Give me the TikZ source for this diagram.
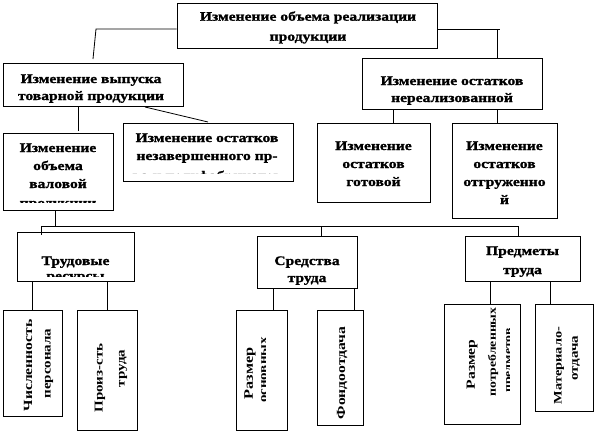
\documentclass[tikz,border=0pt]{standalone}
\usepackage{fontspec}
\setmainfont{Liberation Serif}
\newfontfamily\hb{Liberation Serif}[FakeStretch=1.2,FakeBold=1.2]
\newfontfamily\vb{Liberation Serif}[FakeStretch=1.25]
\usetikzlibrary{fit}
\tikzset{
  bx/.style={draw, line width=0.8pt, inner sep=0pt},
  ln/.style={line width=0.8pt},
  ht/.style={font=\hb\bfseries\fontsize{13}{15}\selectfont, inner sep=0pt, anchor=base},
  vt/.style={font=\vb\bfseries\fontsize{#1}{#1}\selectfont, inner sep=0pt, rotate=90},
}
\newcommand\clipbox[5]{\clip ([shift={(#2pt,-#3pt)}]#1.north west) rectangle ([shift={(-#4pt,#5pt)}]#1.south east);}
\begin{document}
\begin{tikzpicture}[x=1pt,y=-1pt]
\useasboundingbox (0,0) rectangle (598,434);
\fill[white] (0,0) rectangle (598,434);
% boxes
\node[bx, fit={(177,3) (437,48)}] (top) {};
\node[bx, fit={(3,63) (183,106)}] (A) {};
\node[bx, fit={(123,123) (293,181)}] (B) {};
\node[bx, fit={(3,133) (113,210)}] (C) {};
\node[bx, fit={(362,58) (542,109)}] (I) {};
\node[bx, fit={(317,123) (430,202)}] (J) {};
\node[bx, fit={(452,123) (557,218)}] (K) {};
\node[bx, fit={(17,232) (134,281)}] (D) {};
\node[bx, fit={(257,236) (357,288)}] (E) {};
\node[bx, fit={(465,236) (580,281)}] (F) {};
\node[bx, fit={(3,310) (62,416)}] (G1) {};
\node[bx, fit={(77,310) (137,430)}] (G2) {};
\node[bx, fit={(236,310) (287,430)}] (H1) {};
\node[bx, fit={(317,310) (363,425)}] (H2) {};
\node[bx, fit={(444,304) (520,424)}] (P1) {};
\node[bx, fit={(535,304) (593,411)}] (P2) {};
% horizontal texts
\begin{scope}\clipbox{top}{3}{3}{3}{4}
\node[ht] (top1) at (308,20.7) {Изменение объема реализации};
\node[ht] (top2) at (308,40.7) {продукции};
\end{scope}
\begin{scope}\clipbox{A}{3}{3}{3}{4}
\node[ht] (A1) at (91,83) {Изменение выпуска};
\node[ht] (A2) at (91,100) {товарной продукции};
\end{scope}
\begin{scope}\clipbox{B}{3}{3}{3}{8}
\node[ht] (B1) at (207,142) {Изменение остатков};
\node[ht] (B2) at (207,160) {незавершенного пр-};
\node[ht] (B3) at (207,180) {ва и полуфабрикатов};
\end{scope}
\begin{scope}\clipbox{C}{3}{3}{3}{8}
\node[ht] (C1) at (58,152) {Изменение};
\node[ht] (C2) at (58,170) {объема};
\node[ht] (C3) at (58,188) {валовой};
\node[ht] (C4) at (58,207) {продукции};
\end{scope}
\begin{scope}\clipbox{I}{3}{3}{3}{4}
\node[ht] (I1) at (452,85) {Изменение остатков};
\node[ht] (I2) at (452,102) {нереализованной};
\end{scope}
\node[ht] (J1) at (373.5,150) {Изменение};
\node[ht] (J2) at (373.5,168) {остатков};
\node[ht] (J3) at (373.5,186) {готовой};
\node[ht] (K1) at (504.5,150) {Изменение};
\node[ht] (K2) at (504.5,168) {остатков};
\node[ht] (K3) at (504.5,186) {отгруженно};
\node[ht] (K4) at (504.5,204) {й};
\begin{scope}\clipbox{D}{3}{3}{3}{5}
\node[ht] (D1) at (75.5,265) {Трудовые};
\node[ht] (D2) at (75.5,280) {ресурсы};
\end{scope}
\node[ht] (E1) at (307,265) {Средства};
\node[ht] (E2) at (307,282) {труда};
\node[ht] (F1) at (522.5,255) {Предметы};
\node[ht] (F2) at (522.5,274) {труда};
% vertical texts
\node[vt=12.5] (G1a) at (28,365.5) {Численность};
\node[vt=12] (G1b) at (49,363.5) {персонала};
\node[vt=12] (G2a) at (100,378) {Произ-сть};
\node[vt=12] (G2b) at (123,368.5) {труда};
\node[vt=13] (H1a) at (250,373.5) {Размер};
\begin{scope}\clip (236,310) rectangle (265,430);
\node[vt=12] (H1b) at (264,370) {основных};
\end{scope}
\node[vt=12.5] (H2a) at (342,373) {Фондоотдача};
\node[vt=12.5] (P1a) at (472,364.5) {Размер};
\node[vt=11] (P1b) at (493,352) {потребленных};
\begin{scope}\clip (444,304) rectangle (509,424);
\node[vt=11] (P1c) at (510,360.5) {предметов};
\end{scope}
\node[vt=11.5] (P2a) at (559,365.5) {Материало-};
\node[vt=12] (P2b) at (576,358.5) {отдача};
% connectors
\coordinate (k1) at (96,29);
\coordinate (k1e) at (93,59);
\draw[ln] (top.west |- k1) -- (k1) -- (k1e);
\coordinate (k2) at (500,29);
\coordinate (k3) at (497,29);
\draw[ln] (top.east |- k2) -- (k2);
\draw[ln] (k3) -- (I.north -| k3);
\coordinate (k4) at (78,131);
\draw[ln] (A.south -| k4) -- (k4);
\coordinate (k5) at (145,107);
\coordinate (k6) at (208,122);
\draw[ln] (k5) -- (k6);
\coordinate (k7) at (393,0);
\draw[ln] (I.south -| k7) -- (J.north -| k7);
\draw[ln] (I.south -| k3) -- (K.north -| k3);
\coordinate (bc) at (55,226);
\coordinate (b1) at (41,226);
\coordinate (b1e) at (41,235);
\coordinate (b2) at (518,226);
\coordinate (be) at (321,226);
\draw[ln] (C.south -| bc) -- (bc);
\draw[ln] (b1) -- (b2);
\draw[ln] (b1) -- (b1e);
\draw[ln] (be) -- (E.north -| be);
\draw[ln] (b2) -- (F.north -| b2);
\coordinate (xa) at (32,0);
\coordinate (xb) at (107,0);
\coordinate (xc) at (273,0);
\coordinate (xd) at (354,0);
\coordinate (xe) at (490,0);
\coordinate (xf) at (550,0);
\draw[ln] (D.south -| xa) -- (G1.north -| xa);
\draw[ln] (D.south -| xb) -- (G2.north -| xb);
\draw[ln] (E.south -| xc) -- (H1.north -| xc);
\draw[ln] (E.south -| xd) -- (H2.north -| xd);
\draw[ln] (F.south -| xe) -- (P1.north -| xe);
\draw[ln] (F.south -| xf) -- (P2.north -| xf);
\end{tikzpicture}
\end{document}
